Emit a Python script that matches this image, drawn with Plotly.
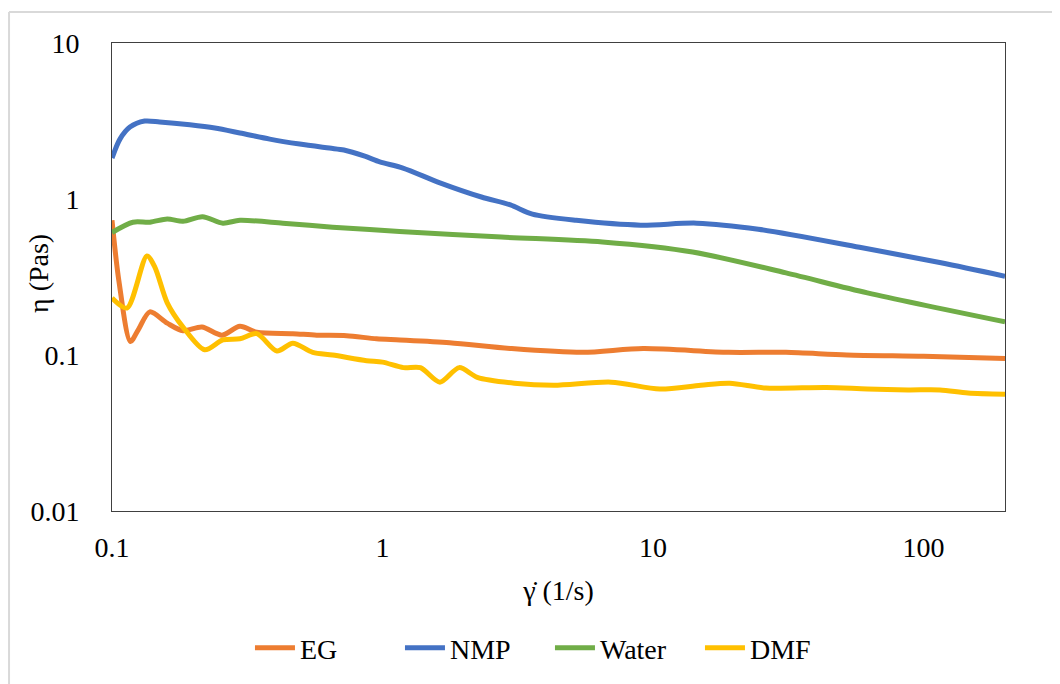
import plotly.graph_objects as go

# Shear rate (1/s) and viscosity (Pa·s)
eg_x = [0.1, 0.106, 0.117, 0.125, 0.138, 0.160, 0.183, 0.215, 0.255, 0.297, 0.343, 0.466, 0.571, 0.736, 0.95, 1.16, 1.77, 3.0, 5.5, 9.2, 19, 31, 52, 100, 200]
eg_y = [0.73, 0.30, 0.122, 0.145, 0.189, 0.160, 0.143, 0.151, 0.134, 0.153, 0.140, 0.137, 0.134, 0.133, 0.127, 0.125, 0.120, 0.110, 0.104, 0.110, 0.104, 0.104, 0.100, 0.098, 0.095]

nmp_x = [0.1, 0.107, 0.1165, 0.132, 0.150, 0.194, 0.24, 0.297, 0.383, 0.494, 0.636, 0.72, 0.86, 0.977, 1.19, 1.63, 2.32, 2.97, 3.58, 5.2, 9.0, 14.5, 24.5, 58, 116, 200]
nmp_y = [1.83, 2.42, 2.89, 3.16, 3.12, 2.99, 2.85, 2.65, 2.42, 2.25, 2.12, 2.06, 1.88, 1.73, 1.58, 1.27, 1.03, 0.916, 0.80, 0.73, 0.68, 0.70, 0.64, 0.49, 0.39, 0.32]

water_x = [0.1, 0.1195, 0.138, 0.160, 0.183, 0.216, 0.257, 0.297, 0.428, 0.654, 1.156, 2.75, 6.5, 14, 31, 62, 200]
water_y = [0.61, 0.71, 0.71, 0.745, 0.72, 0.77, 0.70, 0.73, 0.70, 0.66, 0.62, 0.57, 0.53, 0.457, 0.336, 0.25, 0.163]

dmf_x = [0.1, 0.1136, 0.1346, 0.144, 0.160, 0.183, 0.22, 0.257, 0.297, 0.343, 0.407, 0.466, 0.552, 0.654, 0.873, 1.0, 1.195, 1.38, 1.63, 1.92, 2.24, 3.07, 4.3, 7.0, 10.6, 15, 19.2, 26.1, 43.7, 62, 87.6, 115, 146, 200]
dmf_y = [0.232, 0.2, 0.431, 0.366, 0.216, 0.151, 0.108, 0.125, 0.127, 0.137, 0.106, 0.119, 0.104, 0.1, 0.092, 0.09, 0.083, 0.083, 0.067, 0.083, 0.072, 0.066, 0.064, 0.067, 0.0605, 0.064, 0.066, 0.0614, 0.062, 0.0605, 0.0597, 0.0597, 0.057, 0.056]

x_ticks = [0.1, 1, 10, 100]
x_ticktext = ["0.1", "1", "10", "100"]
y_ticks = [0.01, 0.1, 1, 10]
y_ticktext = ["0.01", "0.1", "1", "10"]

series = [
    ("EG", eg_x, eg_y, "#ED7D31"),
    ("NMP", nmp_x, nmp_y, "#4472C4"),
    ("Water", water_x, water_y, "#70AD47"),
    ("DMF", dmf_x, dmf_y, "#FFC000"),
]

FONT = "Liberation Serif"
FS = 28
fig = go.Figure()
for name, xs, ys, col in series:
    fig.add_trace(go.Scatter(x=xs, y=ys, name=name, mode="lines",
                             line=dict(color=col, width=5, shape="spline", smoothing=0.8)))

axis_common = dict(showgrid=False, zeroline=False, showline=True, linecolor="#404040",
                   linewidth=1, mirror=True, ticks="outside", tickcolor="rgba(0,0,0,0)",
                   automargin=False,
                   tickfont=dict(family=FONT, size=FS, color="#000"))

fig.update_xaxes(type="log", range=[-1, 2.301], tickvals=x_ticks, ticktext=x_ticktext,
                 ticklen=11, title=dict(text="γ̇ (1/s)", standoff=18,
                                        font=dict(family=FONT, size=FS, color="#000")),
                 **axis_common)
fig.update_yaxes(type="log", range=[-2, 1], tickvals=y_ticks, ticktext=y_ticktext,
                 ticklen=26, **axis_common)

# y-axis title placed like the reference (closer than plotly's automatic placement)
fig.add_annotation(text="η (Pas)", xref="paper", yref="paper", x=-0.0829, y=0.5085,
                   xanchor="center", yanchor="middle", textangle=-90, showarrow=False,
                   font=dict(family=FONT, size=FS, color="#000"))

# light frame around the picture
fig.add_shape(type="line", xref="paper", yref="paper", x0=-0.1153, x1=1.08, y0=1.0662, y1=1.0662,
              line=dict(color="#d9d9d9", width=2))
fig.add_shape(type="line", xref="paper", yref="paper", x0=-0.1153, x1=-0.1153, y0=1.0662, y1=-0.4,
              line=dict(color="#d9d9d9", width=2))

fig.update_layout(
    width=1060, height=684,
    margin=dict(l=104, r=63, t=35, b=181, autoexpand=False),
    paper_bgcolor="white", plot_bgcolor="white",
    font=dict(family=FONT, size=FS, color="#000"),
    legend=dict(orientation="h", x=0.1545, xanchor="left", y=-0.293, yanchor="middle",
                font=dict(family=FONT, size=FS, color="#000"), itemwidth=40,
                entrywidth=95, entrywidthmode="pixels", tracegroupgap=0),
    showlegend=True,
)

fig.write_html("out.html")
